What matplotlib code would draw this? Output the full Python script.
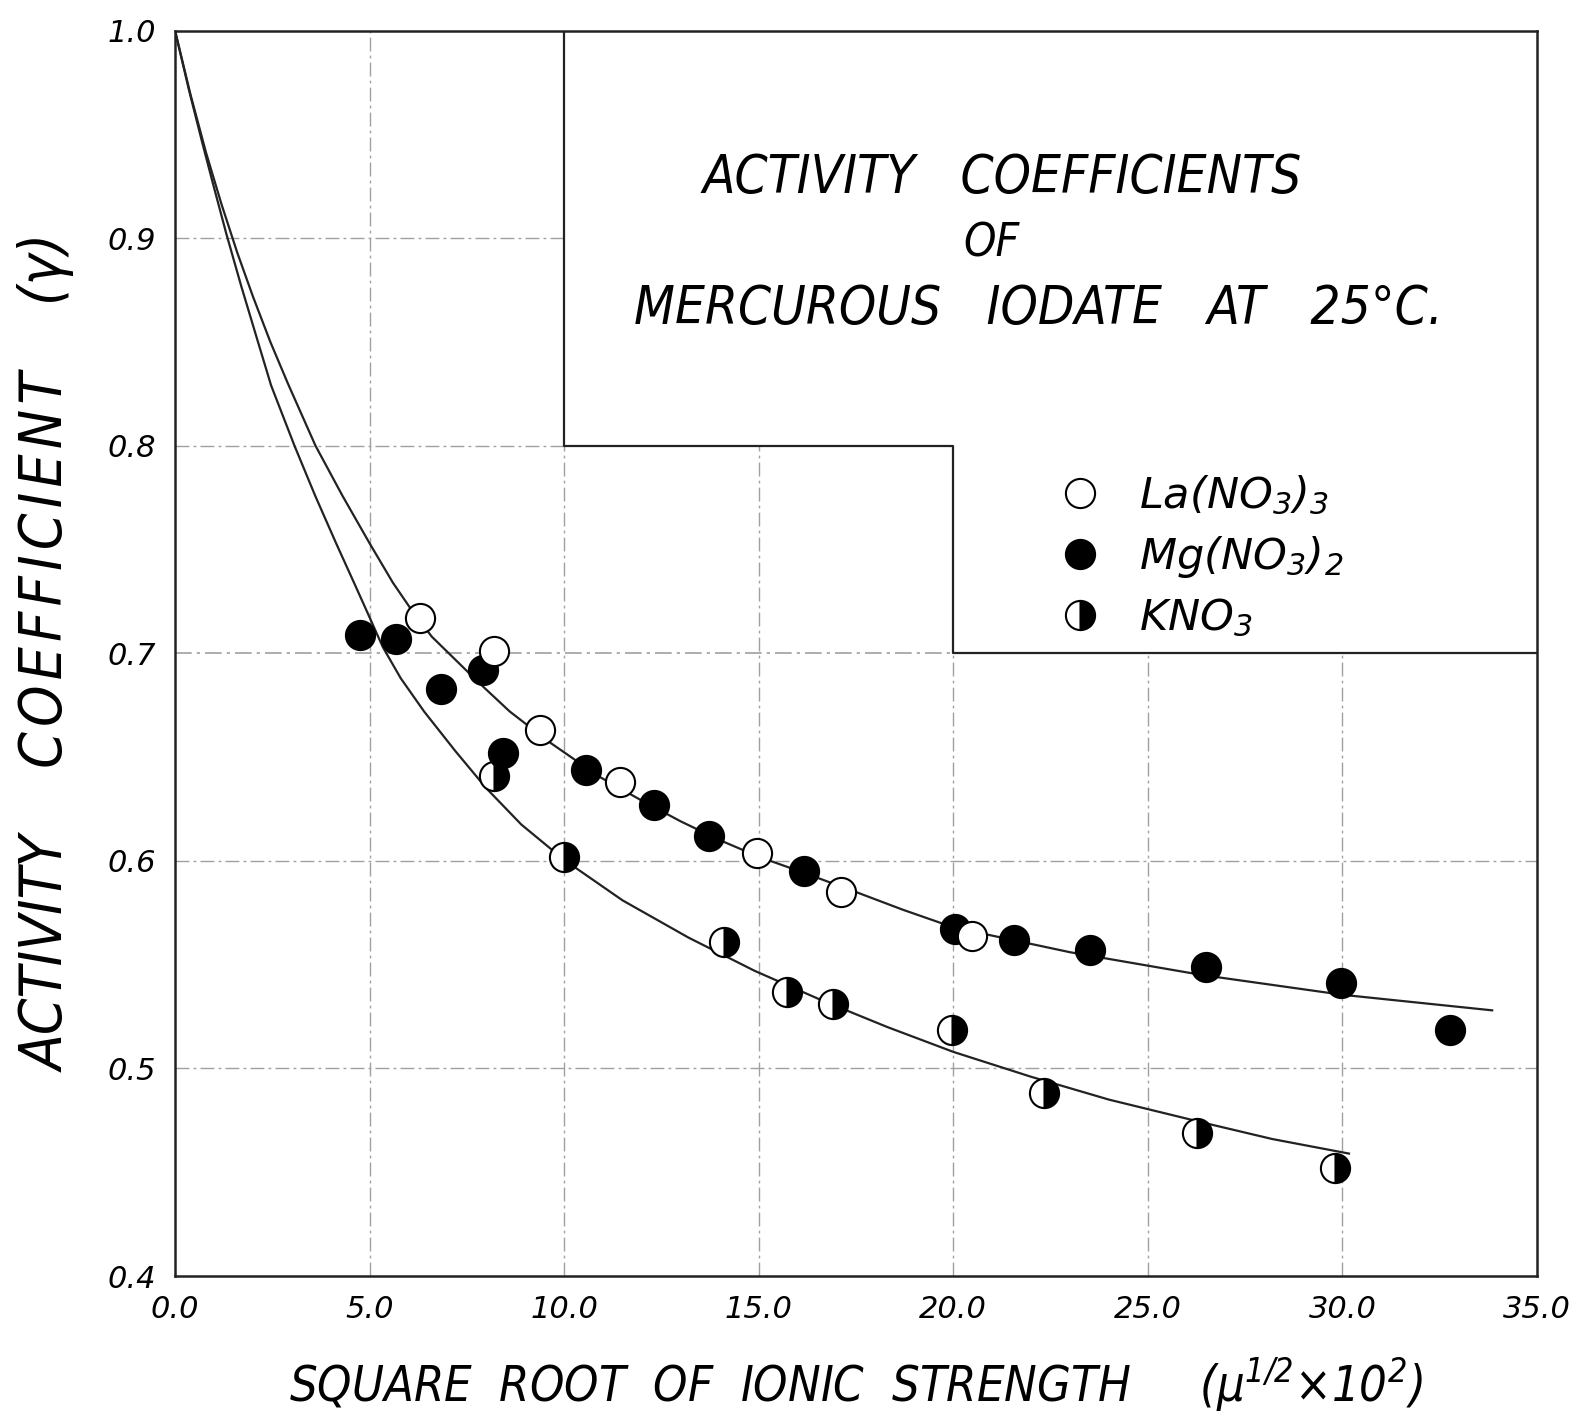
import matplotlib
matplotlib.use("Agg")
import matplotlib.pyplot as plt

# data
la_x = [6.29, 8.19, 9.38, 11.44, 14.96, 17.12, 20.49]
la_y = [0.717, 0.701, 0.663, 0.638, 0.604, 0.585, 0.564]

mg_x = [4.75, 5.69, 6.83, 7.91, 8.43, 10.56, 12.32, 13.73, 16.16, 20.04, 21.55, 23.52, 26.5, 29.96, 32.77]
mg_y = [0.709, 0.707, 0.683, 0.692, 0.652, 0.644, 0.627, 0.612, 0.595, 0.567, 0.562, 0.557, 0.549, 0.541, 0.5186]

k_x = [8.19, 10.0, 14.12, 15.72, 16.9, 19.98, 22.32, 26.26, 29.8]
k_y = [0.641, 0.602, 0.561, 0.537, 0.531, 0.5185, 0.488, 0.469, 0.452]

# hand drawn curves, traced
upper_x = [0, 0.4, 0.8, 1.2, 1.6, 2.0, 2.45, 2.9, 3.61, 4.3, 5.0, 5.6, 6.11, 6.6, 7.2, 7.8, 8.6,
           9.6, 10.9, 12.0, 13.0, 14.0, 15.0, 16.2, 17.5, 18.7, 20.0, 23.0, 26.4, 30.0, 33.85]
upper_y = [1.0, 0.969, 0.941, 0.916, 0.893, 0.872, 0.850, 0.830, 0.800, 0.776, 0.753, 0.734,
           0.720, 0.708, 0.697, 0.686, 0.672, 0.6575, 0.6406, 0.629, 0.619, 0.610, 0.602, 0.594,
           0.585, 0.5765, 0.568, 0.556, 0.545, 0.5355, 0.528]

lower_x = [0, 0.35, 0.7, 1.0, 1.32, 1.7, 2.1, 2.47, 3.07, 3.6, 4.14, 4.6, 4.96, 5.34, 5.8, 6.4,
           7.2, 8.0, 8.9, 10.0, 11.5, 13.2, 14.9, 16.6, 18.3, 20.0, 22.0, 24.0, 26.4, 28.2, 30.17]
lower_y = [1.0, 0.972, 0.946, 0.9245, 0.902, 0.877, 0.852, 0.829, 0.800, 0.776, 0.753, 0.734,
           0.719, 0.703, 0.688, 0.672, 0.653, 0.635, 0.6175, 0.6005, 0.581, 0.563, 0.547, 0.533,
           0.520, 0.508, 0.496, 0.485, 0.474, 0.466, 0.459]

x_ticks = [0, 5, 10, 15, 20, 25, 30, 35]
x_labels = ["0.0", "5.0", "10.0", "15.0", "20.0", "25.0", "30.0", "35.0"]
y_ticks = [0.4, 0.5, 0.6, 0.7, 0.8, 0.9, 1.0]
y_labels = ["0.4", "0.5", "0.6", "0.7", "0.8", "0.9", "1.0"]

# title box outline (staircase)
box_x = [10, 10, 20, 20, 35]
box_y = [1.0, 0.8, 0.8, 0.7, 0.7]

plt.rcParams['font.family'] = 'DejaVu Sans'
plt.rcParams['font.style'] = 'italic'
plt.rcParams['mathtext.default'] = 'regular'

fig = plt.figure(figsize=(15.94, 14.15), dpi=100)
ax = fig.add_axes([0.1098, 0.0982, 0.8544, 0.8802])
ax.set_xlim(0, 35)
ax.set_ylim(0.4, 1.0)

gcol = '#a0a0a0'
gls = (0, (10, 3, 2, 3))
# vertical grid, only outside the title box
ax.plot([5, 5], [0.4, 1.0], color=gcol, lw=1, ls=gls, zorder=1)
ax.plot([10, 10], [0.4, 0.8], color=gcol, lw=1, ls=gls, zorder=1)
ax.plot([15, 15], [0.4, 0.8], color=gcol, lw=1, ls=gls, zorder=1)
ax.plot([20, 20], [0.4, 0.7], color=gcol, lw=1, ls=gls, zorder=1)
ax.plot([25, 25], [0.4, 0.7], color=gcol, lw=1, ls=gls, zorder=1)
ax.plot([30, 30], [0.4, 0.7], color=gcol, lw=1, ls=gls, zorder=1)
# horizontal grid
ax.plot([0, 10], [0.9, 0.9], color=gcol, lw=1, ls=gls, zorder=1)
ax.plot([0, 10], [0.8, 0.8], color=gcol, lw=1, ls=gls, zorder=1)
ax.plot([0, 20], [0.7, 0.7], color=gcol, lw=1.2, ls=gls, zorder=1)
ax.plot([0, 35], [0.6, 0.6], color=gcol, lw=1, ls=gls, zorder=1)
ax.plot([0, 35], [0.5, 0.5], color=gcol, lw=1, ls=gls, zorder=1)

ax.plot(box_x, box_y, color='#222222', lw=1.6, zorder=2)

ax.plot(upper_x, upper_y, color='#222222', lw=1.6, zorder=3)
ax.plot(lower_x, lower_y, color='#222222', lw=1.6, zorder=3)

ms = 21
ax.plot(k_x, k_y, ls='none', marker='o', ms=ms, fillstyle='right', markerfacecolor='black',
        markerfacecoloralt='white', markeredgecolor='black', mew=1.5, zorder=4, label=r'KNO$_3$')
ax.plot(mg_x, mg_y, ls='none', marker='o', ms=ms, markerfacecolor='black',
        markeredgecolor='black', mew=1.5, zorder=5, label=r'Mg(NO$_3$)$_2$')
ax.plot(la_x, la_y, ls='none', marker='o', ms=ms, markerfacecolor='white',
        markeredgecolor='black', mew=1.5, zorder=6, label=r'La(NO$_3$)$_3$')

handles, labels = ax.get_legend_handles_labels()
leg = ax.legend(handles[::-1], labels[::-1], loc='upper left', bbox_to_anchor=(22.05, 0.797),
                bbox_transform=ax.transData, frameon=False, fontsize=31, handletextpad=0.75,
                labelspacing=0.4, handlelength=1.2, borderpad=0)

# title inside the box
tk = dict(ha='center', va='center', fontstretch='condensed')
ax.text(21.25, 0.929, "ACTIVITY   COEFFICIENTS", fontsize=38, **tk)
ax.text(20.97, 0.897, "OF", fontsize=33, **tk)
ax.text(22.2, 0.866, "MERCUROUS   IODATE   AT   25°C.", fontsize=38, **tk)

ax.set_xticks(x_ticks)
ax.set_xticklabels(x_labels, fontsize=22)
ax.set_yticks(y_ticks)
ax.set_yticklabels(y_labels, fontsize=22)
ax.tick_params(length=0, pad=14)

ax.set_xlabel(r"SQUARE  ROOT  OF  IONIC  STRENGTH     ($\mu^{1/2}{\times}10^{2}$)",
              fontsize=35, labelpad=22, fontstretch='condensed')
coef = "\u200a".join("COEFFICIENT")
ax.set_ylabel("ACTIVITY    " + coef + "    (γ)", fontsize=42, labelpad=22, fontstretch='condensed')

for s in ax.spines.values():
    s.set_linewidth(1.8)
    s.set_color('#222222')

fig.savefig("out.png", dpi=100)
